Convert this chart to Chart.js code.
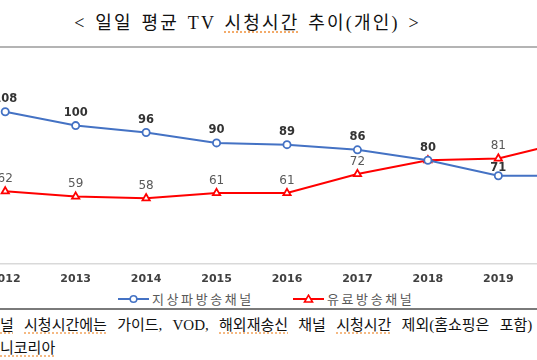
<!DOCTYPE html>
<html lang="ko">
<head>
<meta charset="utf-8">
<script src="https://cdn.jsdelivr.net/npm/chart.js@4"></script>
<style>
  html, body { margin: 0; padding: 0; background: #fff; }
  body { width: 537px; height: 360px; overflow: hidden; position: relative; }
  #title {
    position: absolute; top: 8px; left: 0; width: 495px; text-align: center;
    font-family: "Liberation Serif", "Noto Sans CJK KR", serif; font-size: 18px;
    letter-spacing: 2.2px; word-spacing: 2px; color: #111; white-space: nowrap;
  }
  .sp { text-decoration: underline dotted #f2a25a; text-underline-offset: 3px; }
  #topRule { position: absolute; top: 46px; left: 0; width: 537px; height: 2px; background: #b4b4b4; }
  #chartBox { position: absolute; left: -30px; top: 51px; }
  #legend {
    position: absolute; top: 289px; left: 0; width: 537px; height: 16px;
    font-family: "Noto Sans CJK KR", sans-serif; font-size: 13px; letter-spacing: 2.6px; color: #595959;
  }
  .item { position: absolute; top: 0; display: flex; align-items: center; white-space: nowrap; }
  .item svg { margin-right: 3px; }
  #footRule { position: absolute; top: 308px; left: 0; width: 537px; height: 2px; background: #7a7a7a; }
  .foot {
    position: absolute; left: 0; font-family: "Liberation Serif", "Noto Sans CJK KR", serif;
    font-size: 15px; word-spacing: 6.5px; color: #111; white-space: nowrap;
  }
</style>
</head>
<body>
<div id="title">&lt; 일일 평균 TV <span class="sp">시청시간</span> 추이(개인) &gt;</div>
<div id="topRule"></div>
<div id="chartBox"><canvas id="chart" width="634" height="234"></canvas></div>
<div id="legend">
  <div class="item" style="left:118px">
    <svg width="31" height="10"><line x1="0" y1="5" x2="31" y2="5" stroke="#4472C4" stroke-width="2"/><circle cx="15.5" cy="5" r="3.3" fill="#fff" stroke="#4472C4" stroke-width="1.6"/></svg>
    <span>지상파방송채널</span>
  </div>
  <div class="item" style="left:293px">
    <svg width="31" height="10"><line x1="0" y1="5" x2="31" y2="5" stroke="#FF0000" stroke-width="2"/><polygon points="15.5,1.2 19.5,8 11.5,8" fill="#fff" stroke="#FF0000" stroke-width="1.6"/></svg>
    <span>유료방송채널</span>
  </div>
</div>
<div id="footRule"></div>
<div class="foot" style="top:313px"><span class="sp">널</span> <span class="sp">시청시간에는</span> 가이드, VOD, <span class="sp">해외재송신</span> 채널 <span class="sp">시청시간</span> 제외(홈쇼핑은 포함)</div>
<div class="foot" style="top:336px"><span class="sp">니코리아</span></div>

<script>
// 연도별 일일 평균 시청시간(분)
const years = ['2012', '2013', '2014', '2015', '2016', '2017', '2018', '2019', '2020'];
const terrestrial = [108, 100, 96, 90, 89, 86, 80, 71, 71];
const payTV = [62, 59, 58, 61, 61, 72, 80, 81, 91];

// draws value labels above each point
const valueLabels = {
    id: 'valueLabels',
    afterDatasetsDraw(chart) {
        const ctx = chart.ctx;
        chart.data.datasets.forEach((ds, i) => {
            const meta = chart.getDatasetMeta(i);
            ctx.save();
            ctx.font = ds.labelFont;
            ctx.fillStyle = ds.labelColor;
            ctx.textAlign = 'center';
            ctx.textBaseline = 'middle';
            meta.data.forEach((pt, j) => {
                if (ds.labelSkip && ds.labelSkip.includes(j)) return;
                const lift = (ds.labelLift && ds.labelLift[j]) || 12.5;
                ctx.fillText(String(ds.data[j]), pt.x, pt.y - lift);
            });
            ctx.restore();
        });
    }
};

const ctx = document.getElementById('chart').getContext('2d');
new Chart(ctx, {
    type: 'line',
    data: {
        labels: years,
        datasets: [
            {
                label: '지상파방송채널',
                data: terrestrial,
                borderColor: '#4472C4',
                borderWidth: 2,
                pointStyle: 'circle',
                pointRadius: 3.6,
                pointBorderWidth: 1.8,
                pointBackgroundColor: '#ffffff',
                pointBorderColor: '#4472C4',
                tension: 0,
                labelFont: 'bold 11.5px "DejaVu Sans", sans-serif',
                labelColor: '#333333',
                labelLift: { 7: 8 }
            },
            {
                label: '유료방송채널',
                data: payTV,
                borderColor: '#FF0000',
                borderWidth: 2,
                pointStyle: 'triangle',
                pointRadius: 4.2,
                pointBorderWidth: 1.8,
                pointBackgroundColor: '#ffffff',
                pointBorderColor: '#FF0000',
                tension: 0,
                labelFont: '12px "DejaVu Sans", sans-serif',
                labelColor: '#595959',
                labelSkip: [6]
            }
        ]
    },
    options: {
        responsive: false,
        animation: false,
        layout: { autoPadding: false, padding: { top: 40, left: 0, right: 0, bottom: 0 } },
        plugins: {
            legend: { display: false },
            tooltip: { enabled: false }
        },
        scales: {
            x: {
                offset: true,
                afterFit(scale) { scale.height = 21; },
                grid: { display: false, drawTicks: false },
                border: { display: true, color: '#d9d9d9', width: 1.5 },
                ticks: {
                    padding: 9,
                    color: '#404040',
                    font: { family: 'DejaVu Sans', size: 11, weight: 'bold' },
                    maxRotation: 0
                }
            },
            y: {
                display: false,
                min: 20,
                max: 120
            }
        }
    },
    plugins: [valueLabels]
});
</script>
</body>
</html>
